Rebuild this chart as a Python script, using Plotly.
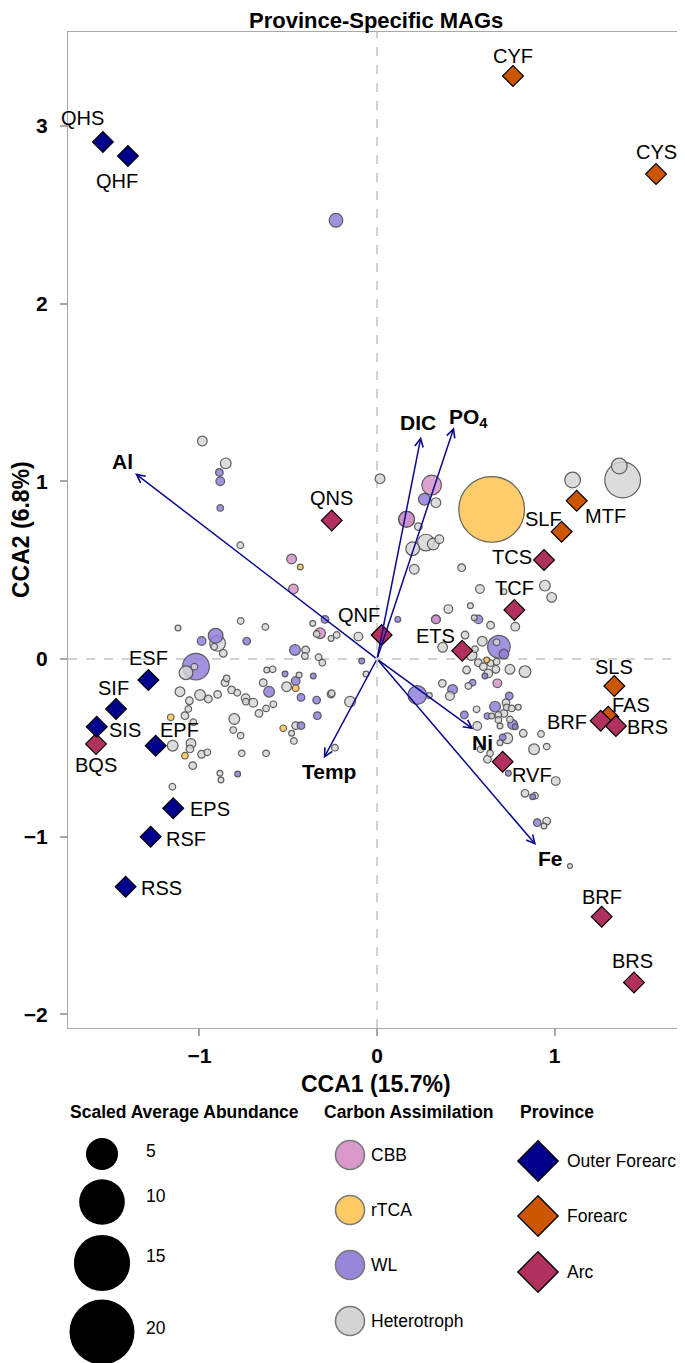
import math
import plotly.graph_objects as go

# ---------------- data ----------------
mag_cca1 = [-0.984, -0.852, -0.888, -0.883, -0.883, -0.770, -0.481, -0.432, -0.471, -0.768,
            -0.629, -1.121, -0.362, -0.293, -0.231, 0.017, 0.308, 0.267, 0.332, 0.167,
            0.167, 0.233, 0.276, 0.201, 0.317, 0.351, 0.210, 0.477, 0.646, 1.102,
            1.365, 1.384, 0.580, 0.946, 0.984, 0.715, 0.402, 0.526, 0.571, 0.548,
            0.640, 0.779, 0.332, 0.332, 0.117, -0.105, 0.496, 0.593, 0.687, 0.674,
            0.715, 0.370, 0.533, 0.552, 0.618, 0.571, 0.599, 0.640, 0.674, 0.670,
            0.627, 0.608, 0.749, 0.834, 0.505, 0.678, 0.368, 0.539, 0.515, 0.426,
            0.411, 0.227, 0.295, 0.745, 0.665, 0.727, 0.731, 0.759, 0.796, 0.715,
            0.684, 0.561, 0.492, 0.622, 0.646, 0.684, 0.749, 0.764, 0.779, 0.693,
            0.565, 0.824, 0.924, 0.734, 0.708, 0.693, 0.956, 0.885, 0.584, 0.637,
            0.622, 0.740, 1.007, 0.834, 0.877, 0.890, 0.903, 0.956, 0.941, 1.087,
            -0.086, -0.062, -0.255, -0.152, -0.237, -0.988, -0.909, -0.898, -0.917, -0.866,
            -0.734, -1.020, -1.076, -1.029, -0.847, -0.856, -1.110, -0.997, -0.950, -1.057,
            -0.898, -0.819, -0.787, -0.740, -0.739, -0.697, -0.621, -0.588, -0.641, -0.608,
            -0.518, -0.509, -0.458, -0.458, -0.439, -0.428, -0.359, -0.340, -0.259, -0.584,
            -0.625, -0.665, -1.082, -1.063, -1.035, -1.162, -0.804, -0.810, -0.768, -1.151,
            -1.048, -1.054, -1.082, -0.988, -0.956, -1.038, -0.885, -0.879, -0.785, -1.153,
            -0.762, -0.625, -0.528, -0.458, -0.428, -0.481, -0.468, -0.336, -0.462, -0.402,
            -0.406, -0.329, -0.308, -0.321, -0.340, -0.259, -0.227]
mag_cca2 = [1.227, 1.101, 1.050, 1.000, 0.850, 0.640, 0.563, 0.518, 0.394, 0.214,
            0.180, 0.174, 0.200, 0.223, 2.469, 1.015, 0.979, 0.899, 0.880, 0.786,
            0.786, 0.745, 0.655, 0.621, 0.647, 0.674, 0.505, 0.514, 0.842, 1.007,
            1.086, 1.007, 0.394, 0.413, 0.347, 0.379, 0.281, 0.300, 0.223, 0.232,
            0.190, 0.182, 0.223, 0.223, 0.223, 0.126, 0.135, 0.100, 0.069, 0.094,
            0.028, 0.066, 0.022, 0.055, -0.006, -0.021, -0.043, -0.024, -0.015, -0.058,
            -0.081, -0.096, -0.058, -0.071, -0.062, -0.137, -0.137, -0.133, -0.152, -0.171,
            -0.208, -0.203, -0.206, -0.208, -0.268, -0.246, -0.272, -0.278, -0.272, -0.306,
            -0.315, -0.283, -0.315, -0.321, -0.321, -0.343, -0.340, -0.368, -0.381, -0.377,
            -0.377, -0.418, -0.422, -0.446, -0.441, -0.471, -0.493, -0.508, -0.508, -0.531,
            -0.564, -0.643, -0.687, -0.756, -0.775, -0.769, -0.921, -0.912, -0.940, -1.165,
            -0.011, -0.084, -0.193, -0.240, -0.499, 0.101, 0.131, 0.088, 0.069, 0.032,
            0.101, -0.043, -0.077, -0.043, -0.109, -0.133, -0.184, -0.203, -0.225, -0.235,
            -0.199, -0.174, -0.190, -0.221, -0.240, -0.246, -0.062, -0.058, -0.133, -0.184,
            -0.084, -0.156, -0.165, -0.124, -0.090, -0.216, -0.096, -0.231, -0.197, -0.255,
            -0.278, -0.306, -0.319, -0.281, -0.356, -0.328, -0.338, -0.400, -0.431, -0.488,
            -0.475, -0.506, -0.544, -0.536, -0.525, -0.600, -0.643, -0.681, -0.647, -0.719,
            -0.531, -0.531, -0.390, -0.375, -0.375, -0.418, -0.461, -0.319, 0.051, 0.051,
            0.017, 0.010, -0.021, 0.145, 0.141, 0.116, 0.135]
mag_abund = [0.46, 0.56, 0.29, 0.37, 0.22, 0.22, 0.46, 0.17, 0.46, 0.22,
             0.22, 0.17, 0.17, 0.29, 0.90, 0.46, 1.84, 0.66, 0.46, 1.18,
             1.18, 0.29, 1.33, 0.90, 0.66, 0.37, 0.46, 0.29, 20.0, 1.18,
             1.18, 5.95, 0.37, 0.56, 0.46, 0.17, 0.37, 0.17, 0.37, 0.17,
             0.29, 0.37, 0.37, 0.37, 0.17, 0.37, 0.29, 0.46, 2.43, 0.22,
             0.46, 0.46, 0.56, 0.22, 0.17, 0.29, 0.29, 0.22, 0.22, 0.29,
             0.37, 0.17, 0.46, 0.66, 0.29, 0.37, 0.29, 0.22, 0.22, 0.46,
             0.37, 1.66, 0.17, 0.29, 0.56, 0.29, 0.22, 0.22, 0.17, 0.29,
             0.22, 0.22, 0.29, 0.22, 0.17, 0.22, 0.22, 0.46, 0.17, 0.17,
             0.37, 0.29, 0.22, 0.56, 0.22, 0.17, 0.22, 0.56, 0.22, 0.22,
             0.29, 0.17, 0.37, 0.29, 0.17, 0.22, 0.29, 0.29, 0.17, 0.12,
             0.17, 0.17, 0.22, 0.56, 0.22, 0.37, 1.03, 1.18, 0.22, 0.29,
             0.29, 3.35, 0.90, 0.22, 0.22, 0.29, 0.46, 0.56, 0.29, 0.29,
             0.29, 0.29, 0.22, 0.37, 0.22, 0.37, 0.17, 0.22, 0.29, 0.56,
             0.17, 0.46, 0.22, 0.37, 0.17, 0.29, 0.17, 0.29, 0.29, 0.22,
             0.22, 0.29, 0.29, 0.22, 0.22, 0.22, 0.56, 0.22, 0.22, 0.56,
             0.46, 0.29, 0.22, 0.29, 0.22, 0.29, 0.17, 0.17, 0.17, 0.22,
             0.22, 0.22, 0.22, 0.29, 0.29, 0.17, 0.22, 0.29, 0.56, 0.29,
             0.22, 0.22, 0.22, 0.56, 0.22, 0.17, 0.22]
mag_carbon = ["Heterotroph", "Heterotroph", "WL", "WL", "WL", "Heterotroph", "CBB", "rTCA", "CBB", "Heterotroph",
              "Heterotroph", "Heterotroph", "Heterotroph", "WL", "WL", "Heterotroph", "CBB", "WL", "Heterotroph", "WL",
              "CBB", "Heterotroph", "Heterotroph", "Heterotroph", "Heterotroph", "Heterotroph", "Heterotroph", "Heterotroph", "rTCA", "Heterotroph",
              "Heterotroph", "Heterotroph", "Heterotroph", "Heterotroph", "Heterotroph", "Heterotroph", "Heterotroph", "Heterotroph", "WL", "Heterotroph",
              "Heterotroph", "Heterotroph", "WL", "CBB", "WL", "Heterotroph", "Heterotroph", "Heterotroph", "WL", "Heterotroph",
              "WL", "Heterotroph", "Heterotroph", "Heterotroph", "rTCA", "Heterotroph", "Heterotroph", "Heterotroph", "Heterotroph", "Heterotroph",
              "Heterotroph", "WL", "Heterotroph", "Heterotroph", "Heterotroph", "CBB", "Heterotroph", "WL", "Heterotroph", "WL",
              "Heterotroph", "WL", "Heterotroph", "WL", "WL", "Heterotroph", "Heterotroph", "Heterotroph", "Heterotroph", "Heterotroph",
              "Heterotroph", "Heterotroph", "WL", "WL", "Heterotroph", "Heterotroph", "Heterotroph", "WL", "WL", "Heterotroph",
              "Heterotroph", "Heterotroph", "Heterotroph", "Heterotroph", "WL", "Heterotroph", "Heterotroph", "Heterotroph", "Heterotroph", "Heterotroph",
              "Heterotroph", "WL", "Heterotroph", "Heterotroph", "WL", "Heterotroph", "WL", "Heterotroph", "Heterotroph", "Heterotroph",
              "WL", "Heterotroph", "Heterotroph", "Heterotroph", "Heterotroph", "WL", "WL", "Heterotroph", "Heterotroph", "Heterotroph",
              "WL", "WL", "Heterotroph", "Heterotroph", "Heterotroph", "Heterotroph", "Heterotroph", "Heterotroph", "Heterotroph", "Heterotroph",
              "Heterotroph", "Heterotroph", "Heterotroph", "Heterotroph", "Heterotroph", "Heterotroph", "Heterotroph", "Heterotroph", "Heterotroph", "WL",
              "WL", "Heterotroph", "rTCA", "WL", "Heterotroph", "WL", "WL", "WL", "Heterotroph", "Heterotroph",
              "Heterotroph", "Heterotroph", "Heterotroph", "Heterotroph", "Heterotroph", "rTCA", "Heterotroph", "Heterotroph", "Heterotroph", "Heterotroph",
              "Heterotroph", "Heterotroph", "rTCA", "Heterotroph", "Heterotroph", "Heterotroph", "Heterotroph", "Heterotroph", "WL", "Heterotroph",
              "Heterotroph", "Heterotroph", "rTCA", "Heterotroph", "WL", "Heterotroph", "Heterotroph", "WL", "WL", "Heterotroph",
              "Heterotroph", "Heterotroph", "Heterotroph", "CBB", "Heterotroph", "Heterotroph", "Heterotroph"]

site_names = ["QHS", "QHF", "CYF", "CYS", "QNS", "QNF", "ESF", "SIF", "SIS", "BQS", "EPF", "EPS", "RSF",
              "RSS", "SLF", "MTF", "TCS", "TCF", "ETS", "SLS", "FAS", "BRF", "BRS", "RVF", "BRF", "BRS"]
site_cca1 = [-1.544, -1.403, 0.766, 1.572, -0.255, 0.026, -1.288, -1.470, -1.579, -1.583, -1.247, -1.148, -1.275,
             -1.416, 1.040, 1.125, 0.941, 0.774, 0.480, 1.337, 1.303, 1.260, 1.346, 0.708, 1.266, 1.448]
site_cca2 = [2.910, 2.831, 3.281, 2.729, 0.780, 0.135, -0.118, -0.281, -0.381, -0.478, -0.488, -0.840, -1.000,
             -1.281, 0.716, 0.890, 0.557, 0.276, 0.047, -0.152, -0.325, -0.347, -0.377, -0.578, -1.450, -1.820]
site_province = ["Outer Forearc", "Outer Forearc", "Forearc", "Forearc", "Arc", "Arc", "Outer Forearc",
                 "Outer Forearc", "Outer Forearc", "Arc", "Outer Forearc", "Outer Forearc", "Outer Forearc",
                 "Outer Forearc", "Forearc", "Forearc", "Arc", "Arc", "Arc", "Forearc", "Forearc", "Arc", "Arc",
                 "Arc", "Arc", "Arc"]

env_labels = ["Al", "DIC", "PO<sub>4</sub>", "Temp", "Ni", "Fe"]
env_cca1 = [-1.363, 0.248, 0.434, -0.300, 0.543, 0.896]
env_cca2 = [1.045, 1.251, 1.304, -0.559, -0.396, -1.047]

carbon_types = ["CBB", "rTCA", "WL", "Heterotroph"]
provinces = ["Outer Forearc", "Forearc", "Arc"]
size_breaks = [5, 10, 15, 20]

# ---------------- styles ----------------
FONT = "Liberation Sans, Arial, sans-serif"
carbon_colors = {"CBB": "#D998CA", "rTCA": "#FFCA63", "WL": "#9787DB", "Heterotroph": "#D4D4D4"}
carbon_fill = {"CBB": "rgba(214,146,200,0.85)", "rTCA": "rgba(255,200,94,0.92)",
               "WL": "rgba(145,128,218,0.85)", "Heterotroph": "rgba(212,212,212,0.82)"}
province_colors = {"Outer Forearc": "#00008B", "Forearc": "#CC5500", "Arc": "#B0305E"}
ARROW = "#0A0A8C"

# label offsets (px) for site labels (repelled text)
site_label_shift = [(-20, 24), (-11, -25), (0, 20), (0, 22), (0, 22), (-23, 20), (0, 22), (-3, 21), (28, -3),
                    (0, -21), (24, 16), (37, -1), (35, -2), (36, -1), (-18, 13), (29, -15), (-32, 3), (0, 22),
                    (-27, 15), (0, 19), (23, 12), (-34, -1), (32, -1), (29, -13), (0, 20), (-2, 21)]
env_label_shift = [(-13, 12), (-3, 14), (14, 9), (5, -13), (9, -13), (14, -13)]

# page geometry (the page body adds an 8px offset around the figure)
PAGE_W, PAGE_H = 685, 1363
BODY = 8
W, H = PAGE_W - BODY, PAGE_H - BODY
FRAME_L, FRAME_R, FRAME_T, FRAME_B = 68, 684, 32, 1028   # page pixels
ML, MT = FRAME_L - BODY, FRAME_T - BODY
MR = W - (FRAME_R - BODY)
PAPER_H = PAGE_H - FRAME_T
PAPER_W = FRAME_R - FRAME_L


def py2paper(py):
    return (PAGE_H - py) / PAPER_H


def px2paper(px):
    return (px - FRAME_L) / PAPER_W


def size_px(v):
    return max(14.76 * math.sqrt(v) - 0.3, 3)


X_RANGE = [-1.7408, 1.7296]
Y_RANGE = [-2.0765, 3.5284]

fig = go.Figure()

# reference dashed lines
fig.add_shape(type="line", xref="x", yref="y", x0=0, x1=0, y0=Y_RANGE[0], y1=Y_RANGE[1],
              line=dict(color="#C4C4C4", width=1.5, dash="dash"), layer="below")
fig.add_shape(type="line", xref="x", yref="y", x0=X_RANGE[0], x1=X_RANGE[1], y0=0, y1=0,
              line=dict(color="#C4C4C4", width=1.5, dash="dash"), layer="below")

# MAG circles (larger first)
order = sorted(range(len(mag_cca1)), key=lambda i: -mag_abund[i])
fig.add_trace(go.Scatter(
    x=[mag_cca1[i] for i in order], y=[mag_cca2[i] for i in order], mode="markers",
    marker=dict(size=[size_px(mag_abund[i]) for i in order], opacity=1,
                color=[carbon_fill[mag_carbon[i]] for i in order],
                line=dict(color="rgba(80,80,80,0.9)", width=1.2)),
    hoverinfo="skip", xaxis="x", yaxis="y"))

# env arrows
for lab, ex, ey, (dx, dy) in zip(env_labels, env_cca1, env_cca2, env_label_shift):
    fig.add_annotation(x=ex, y=ey, ax=0, ay=0, xref="x", yref="y", axref="x", ayref="y",
                       text="", showarrow=True, arrowhead=5, arrowsize=1.1, arrowwidth=1.5,
                       arrowcolor=ARROW, standoff=0, startstandoff=0)
    fig.add_annotation(x=ex, y=ey, xref="x", yref="y", text="<b>%s</b>" % lab, showarrow=False,
                       xanchor="center", yanchor="middle",
                       xshift=dx, yshift=dy, font=dict(family=FONT, size=21, color="black"))

# site diamonds
for prov in ["Forearc", "Arc", "Outer Forearc"]:
    idx = [i for i, p in enumerate(site_province) if p == prov]
    fig.add_trace(go.Scatter(
        x=[site_cca1[i] for i in idx], y=[site_cca2[i] for i in idx], mode="markers",
        marker=dict(symbol="diamond", size=16, color=province_colors[prov], opacity=1,
                    line=dict(color="black", width=1.2)),
        hoverinfo="skip", xaxis="x", yaxis="y"))

for name, sx, sy, (dx, dy) in zip(site_names, site_cca1, site_cca2, site_label_shift):
    fig.add_annotation(x=sx, y=sy, xref="x", yref="y", text=name, showarrow=False,
                       xanchor="center", yanchor="middle",
                       xshift=dx, yshift=dy, font=dict(family=FONT, size=20, color="black"))

# ---------------- legend (drawn on a helper axis in page-pixel units) ----------------
size_y = [1154, 1202, 1263, 1332]
size_lab_y = [1151, 1196, 1256, 1328]
fig.add_trace(go.Scatter(x=[102] * 4, y=size_y, mode="markers",
                         marker=dict(size=[14.76 * math.sqrt(v) - 1.0 for v in size_breaks],
                                     color="#000000", opacity=1, line=dict(width=0)),
                         hoverinfo="skip", xaxis="x2", yaxis="y2"))
for v, yy in zip(size_breaks, size_lab_y):
    fig.add_annotation(x=144, y=yy, xref="x2", yref="y2", text=str(v), showarrow=False,
                       xanchor="left", yanchor="middle",
                       font=dict(family=FONT, size=17.5, color="black"))

carb_y = [1155, 1210, 1265, 1321]
fig.add_trace(go.Scatter(x=[350] * 4, y=carb_y, mode="markers",
                         marker=dict(size=29, color=[carbon_colors[c] for c in carbon_types], opacity=1,
                                     line=dict(color="#7A7A7A", width=1.6)),
                         hoverinfo="skip", xaxis="x2", yaxis="y2"))
for c, yy in zip(carbon_types, carb_y):
    fig.add_annotation(x=369, y=yy, xref="x2", yref="y2", text=c, showarrow=False,
                       xanchor="left", yanchor="middle",
                       font=dict(family=FONT, size=17.5, color="black"))

prov_y = [1161, 1216, 1272]
fig.add_trace(go.Scatter(x=[538] * 3, y=prov_y, mode="markers",
                         marker=dict(symbol="diamond", size=31, color=[province_colors[p] for p in provinces],
                                     opacity=1, line=dict(color="black", width=1.4)),
                         hoverinfo="skip", xaxis="x2", yaxis="y2"))
for p, yy in zip(provinces, prov_y):
    fig.add_annotation(x=565, y=yy, xref="x2", yref="y2", text=p, showarrow=False,
                       xanchor="left", yanchor="middle",
                       font=dict(family=FONT, size=17.5, color="black"))

for t, xx in [("Scaled Average Abundance", 68), ("Carbon Assimilation", 322), ("Province", 518)]:
    fig.add_annotation(x=xx, y=1112, xref="x2", yref="y2", text="<b>%s</b>" % t, showarrow=False,
                       xanchor="left", yanchor="middle", font=dict(family=FONT, size=17.5, color="black"))

# titles
fig.add_annotation(x=px2paper(376), y=py2paper(20), xref="paper", yref="paper", showarrow=False,
                   xanchor="center", yanchor="middle",
                   text="<b>Province-Specific MAGs</b>", font=dict(family=FONT, size=22, color="black"))
fig.add_annotation(x=px2paper(376), y=py2paper(1084), xref="paper", yref="paper", showarrow=False,
                   xanchor="center", yanchor="middle",
                   text="<b>CCA1 (15.7%)</b>", font=dict(family=FONT, size=23, color="black"))
fig.add_annotation(x=px2paper(21), y=py2paper(530), xref="paper", yref="paper", showarrow=False,
                   xanchor="center", yanchor="middle",
                   textangle=-90, text="<b>CCA2 (6.8%)</b>", font=dict(family=FONT, size=23, color="black"))

axis_common = dict(showgrid=False, zeroline=False, showline=True, mirror=True, linecolor="#A8A8A8",
                   linewidth=1, ticks="outside", ticklen=7, tickcolor="#A8A8A8", tickwidth=1.5,
                   tickfont=dict(family=FONT, size=21, color="black", weight="bold"))

fig.update_layout(
    width=W, height=H, margin=dict(l=ML, r=MR, t=MT, b=0, pad=0),
    plot_bgcolor="white", paper_bgcolor="white", showlegend=False,
    xaxis=dict(domain=[0, 1], range=X_RANGE, tickvals=[-1, 0, 1], anchor="y", ticklabelstandoff=2,
               **axis_common),
    yaxis=dict(domain=[py2paper(FRAME_B), 1], range=Y_RANGE, tickvals=[-2, -1, 0, 1, 2, 3],
               anchor="x", ticklabelstandoff=8, **axis_common),
    xaxis2=dict(domain=[0, 1], range=[FRAME_L, FRAME_R], visible=False, anchor="y2"),
    yaxis2=dict(domain=[0, py2paper(1095)], range=[PAGE_H, 1095], visible=False, anchor="x2"),
)

fig.write_html("out.html")
